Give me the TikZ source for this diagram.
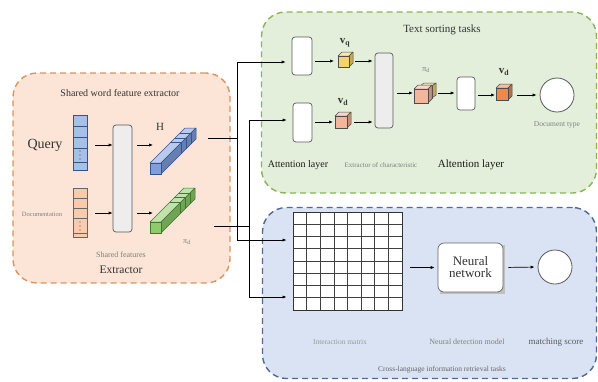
\documentclass[tikz,border=0pt]{standalone}
\usepackage{fontspec}
\setmainfont{Liberation Serif}
\usetikzlibrary{arrows.meta}
\definecolor{lpfill}{HTML}{FCE4D6}
\definecolor{lpdraw}{HTML}{D99560}
\definecolor{gpfill}{HTML}{E3EFDA}
\definecolor{gpdraw}{HTML}{86B556}
\definecolor{bpfill}{HTML}{DAE3F3}
\definecolor{bpdraw}{HTML}{4F6B94}
\definecolor{barblue}{HTML}{7F9FDC}
\definecolor{barbluedk}{HTML}{34548F}
\definecolor{bargreen}{HTML}{8FCB6A}
\definecolor{bargreendk}{HTML}{3C7A2A}
\definecolor{cubeyellow}{HTML}{F4D46A}
\definecolor{cubepink}{HTML}{F4B69A}
\definecolor{cubeorange}{HTML}{EC8A4E}
\definecolor{vecblue}{HTML}{A8BFE6}
\definecolor{vecorange}{HTML}{F8CBAD}
\newcommand\fsz[1]{\fontsize{#1}{#1}\selectfont}
% prism: x, y (front face top-left, y down), size, dx, dy, colour, border colour
\newcommand\prism[7]{%
  \filldraw[fill=#6!55!white,draw=#7,line width=0.5pt,line join=round]
    (#1,#2) -- ++(#3,0) -- ++(#4,#5) -- ++(-#3,0) -- cycle;
  \filldraw[fill=#6!80!black,draw=#7,line width=0.5pt,line join=round]
    ({#1+#3},#2) -- ++(#4,#5) -- ++(0,#3) -- ++(-#4,-#5) -- cycle;
  \filldraw[fill=#6,draw=#7,line width=0.5pt] (#1,#2) rectangle ++(#3,#3);
}
\newcommand\seps[7]{%
  \foreach \f in {#6}{%
    \draw[draw=#7,line width=0.5pt] ({#1+\f*#4},{#2+\f*#5}) -- ({#1+#3+\f*#4},{#2+\f*#5}) -- ({#1+#3+\f*#4},{#2+#3+\f*#5});
  }%
}
\begin{document}
\begin{tikzpicture}[x=1pt,y=-1pt,
  panel/.style={rounded corners=24pt, line width=1.4pt, dash pattern=on 6pt off 4pt},
  lpanel/.style={panel, fill=lpfill, draw=lpdraw},
  gpanel/.style={panel, fill=gpfill, draw=gpdraw},
  bpanel/.style={panel, fill=bpfill, draw=bpdraw},
  lbox/.style={draw=black!65, line width=0.7pt, rounded corners=3pt, inner sep=0pt},
  whitebox/.style={lbox, fill=white},
  graybox/.style={lbox, fill=black!7},
  vec/.style={draw=black!70, line width=0.6pt, inner sep=0pt, minimum width=14},
  circ/.style={circle, draw=black!65, fill=white, line width=0.8pt, minimum size=34, inner sep=0pt},
  arr/.style={-{Latex[length=4pt,width=3.2pt]}, line width=0.7pt, black},
  ln/.style={line width=0.7pt, black},
  txt/.style={inner sep=0pt, text=black!80},
  small/.style={inner sep=0pt, text=black!50}
]
\useasboundingbox (0,0) rectangle (598,381);

% ---------- panels ----------
\node[lpanel, minimum width=217, minimum height=210] (lp) at (121.5,178) {};
\node[gpanel, minimum width=335, minimum height=181] (gp) at (429,102.5) {};
\node[bpanel, minimum width=334, minimum height=171] (bp) at (429.5,293) {};

% ---------- left panel ----------
\node[txt, font=\fsz{10}] (t1) at (120,93) {Shared word feature extractor};
\node[txt, font=\fsz{14}] (query) at (45,145) {Query};
\node[small, font=\fsz{6.5}] (doc) at (42,214) {Documentation};

\node[vec, fill=vecblue, draw=barbluedk, minimum height=55] (qv) at (80,142.5) {};
\foreach \yy in {126,137,148,162} \draw[barbluedk, line width=0.5pt] (73,\yy) -- (87,\yy);
\foreach \yy in {151,155,159} \fill[black!70] (80,\yy) circle (0.7);

\node[vec, fill=vecorange, draw=black!60, minimum height=49] (dv) at (80,212.5) {};
\foreach \yy in {198,208,218,233} \draw[black!60, line width=0.5pt] (73,\yy) -- (87,\yy);
\foreach \yy in {222,226,230} \fill[black!70] (80,\yy) circle (0.7);

\node[graybox, minimum width=19, minimum height=107] (sh) at (122.5,178.5) {};

\coordinate (qy) at (0,145);
\coordinate (dy) at (0,213);
\coordinate (hin) at (153,145);
\coordinate (din) at (153,213);
\draw[arr, shorten <=8pt] (qv.east |- qy) -- (sh.west |- qy);
\draw[arr, shorten <=8pt] (dv.east |- dy) -- (sh.west |- dy);
\draw[arr, shorten <=5pt] (sh.east |- qy) -- (hin);
\draw[arr, shorten <=5pt] (sh.east |- dy) -- (din);

\prism{150}{163}{11}{35}{-35}{barblue}{barbluedk}
\seps{150}{163}{11}{35}{-35}{0.58,0.72,0.86}{barbluedk}
\prism{150}{222}{11}{34}{-34}{bargreen}{bargreendk}
\seps{150}{222}{11}{34}{-34}{0.58,0.72,0.86}{bargreendk}

\node[txt, font=\fsz{11}] (hl) at (160,127) {H};
\node[small, font=\fsz{8}] (pdl) at (187,242) {π\textsubscript{d}};
\node[small, font=\fsz{8}] (shf) at (121,255) {Shared features};
\node[txt, font=\fsz{11.5}] (ext) at (121,270) {Extractor};

% ---------- green panel ----------
\node[txt, font=\fsz{11}] (t2) at (442,30) {Text sorting tasks};
\node[whitebox, minimum width=20, minimum height=38] (att1) at (302,56) {};
\node[whitebox, minimum width=19, minimum height=39] (att2) at (302.5,122.5) {};
\node[graybox, minimum width=18, minimum height=75] (mid) at (384,90.5) {};
\node[whitebox, minimum width=18, minimum height=33] (att3) at (466,93.5) {};
\node[circ] (c1) at (557,95) {};

\prism{338}{56}{11}{4}{-4}{cubeyellow}{black!70}
\prism{335}{116}{12}{4}{-4}{cubepink}{black!70}
\prism{420}{86}{12}{4}{-3}{cubeyellow}{black!70}
\prism{414}{89}{14}{4}{-4}{cubepink}{black!70}
\prism{496}{88}{12}{4}{-4}{cubeorange}{black!70}

\coordinate (cqL) at (338,61);
\coordinate (cqR) at (353,61);
\coordinate (cdL) at (335,122);
\coordinate (cdR) at (351,122);
\coordinate (cmL) at (414,93);
\coordinate (cmR) at (436,93);
\coordinate (coL) at (496,95);
\coordinate (coR) at (512,95);

\draw[arr, shorten <=3pt, shorten >=4pt] (att1.east |- cqL) -- (cqL);
\draw[arr, shorten <=2pt, shorten >=2pt] (cqR) -- (mid.west |- cqR);
\draw[arr, shorten <=3pt, shorten >=2pt] (att2.east |- cdL) -- (cdL);
\draw[arr, shorten <=3pt, shorten >=2pt] (cdR) -- (mid.west |- cdR);
\draw[arr, shorten <=4pt, shorten >=1pt] (mid.east |- cmL) -- (cmL);
\draw[arr, shorten <=2pt, shorten >=2pt] (cmR) -- (att3.west |- cmR);
\draw[arr, shorten <=3pt, shorten >=1pt] (att3.east |- coL) -- (coL);
\draw[arr, shorten <=5pt, shorten >=3pt] (coR) -- (c1.west |- coR);

\node[txt, font=\fsz{11}] (vq) at (345,43) {\textbf{v}\textsubscript{\textbf{q}}};
\node[txt, font=\fsz{11}] (vd1) at (343,102) {\textbf{v}\textsubscript{\textbf{d}}};
\node[small, font=\fsz{8.5}] (pd2) at (426,70) {π\textsubscript{d}};
\node[txt, font=\fsz{11}] (vd2) at (504,72) {\textbf{v}\textsubscript{\textbf{d}}};
\node[small, font=\fsz{7.5}] (dtype) at (557,125) {Document type};
\node[txt, font=\fsz{10}, text=black!90] (al1) at (298,165) {Attention layer};
\node[small, font=\fsz{7}] (eoc) at (381,165) {Extractor of characteristic};
\node[txt, font=\fsz{11}, text=black!90] (al2) at (471,165) {Altention layer};

% ---------- blue panel ----------
\node[draw=black!80, fill=white, line width=0.9pt, minimum width=109, minimum height=98, inner sep=0pt] (mat) at (347.5,261) {};
\foreach \i in {1,...,7} {
  \draw[black!75, line width=0.6pt] ({293+\i*109/8},212) -- ({293+\i*109/8},310);
  \draw[black!75, line width=0.6pt] (293,{212+\i*98/8}) -- (402,{212+\i*98/8});
}
\fill[black!25] (440,245) rectangle (505,294);
\node[whitebox, rounded corners=6pt, draw=black!60, minimum width=65, minimum height=49, font=\fsz{13}, text=black!80, align=center] (nn) at (470.5,267.5) {Neural\\[-1pt]network};
\node[circ] (c2) at (555,267) {};

\draw[arr, shorten <=8pt, shorten >=3pt] (mat.east |- nn) -- (nn.west);
\draw[arr, shorten <=5pt, shorten >=3pt] (nn.east) -- (c2.west);

\node[small, font=\fsz{7.5}, text=black!40] (im) at (340,342) {Interaction matrix};
\node[small, font=\fsz{8}] (ndm) at (467,342) {Neural detection model};
\node[txt, font=\fsz{9}, text=black!65] (ms) at (556,342) {matching score};
\node[small, font=\fsz{7.5}, text=black!60] (cl) at (442,370) {Cross-language information retrieval tasks};

% ---------- connectors between panels ----------
\coordinate (hout) at (208,138);
\coordinate (dout) at (214,226);
\coordinate (j1t) at (237,62);
\coordinate (j1b) at (237,240);
\coordinate (j2t) at (249,120);
\coordinate (j2b) at (249,297);
\draw[ln] (hout) -- (hout -| j1t);
\draw[ln] (dout) -- (dout -| j2t);
\draw[arr, shorten >=6pt] (j1b) -- (j1t) -- (att1.west |- j1t);
\draw[arr, shorten >=6pt] (j1t) -- (j1b) -- (mat.west |- j1b);
\draw[arr, shorten >=6pt] (j2b) -- (j2t) -- (att2.west |- j2t);
\draw[arr, shorten >=6pt] (j2t) -- (j2b) -- (mat.west |- j2b);
\end{tikzpicture}
\end{document}
